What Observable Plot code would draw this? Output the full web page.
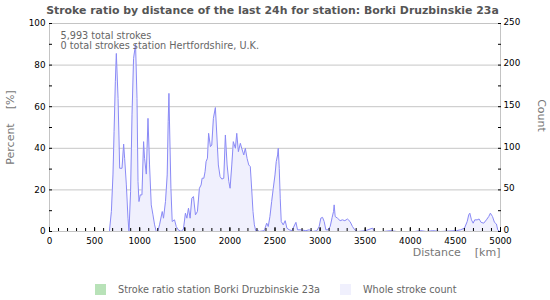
<!DOCTYPE html>
<html>
<head>
<meta charset="utf-8">
<script src="https://cdn.jsdelivr.net/npm/d3@7"></script>
<script src="https://cdn.jsdelivr.net/npm/@observablehq/plot@0.6"></script>
<style>
  html, body { margin: 0; padding: 0; background: #fff; }
  #wrap { position: relative; width: 550px; height: 300px; font-family: "DejaVu Sans", sans-serif; }
  #title { position: absolute; top: 4px; left: 0; width: 545px; text-align: center; font-weight: bold; font-size: 10.9px; color: #555; }
  .leg { position: absolute; top: 284px; font-size: 9.7px; color: #666; white-space: nowrap; }
  .sw { position: absolute; top: 284px; width: 11px; height: 11px; }
  #chart { position: absolute; top: 0; left: 0; }
</style>
</head>
<body>
<div id="wrap">
  <div id="chart"></div>
  <div id="title">Stroke ratio by distance of the last 24h for station: Borki Druzbinskie 23a</div>
  <div class="sw" style="left:95px;background:#b8e2b8"></div>
  <div class="leg" style="left:118px">Stroke ratio station Borki Druzbinskie 23a</div>
  <div class="sw" style="left:340px;background:#f0f0fd"></div>
  <div class="leg" style="left:363px">Whole stroke count</div>
</div>
<script>
// Whole stroke count per distance (km)
const distanceKm = [650, 664, 686, 704, 716, 730, 741, 760, 778, 804, 822, 833, 852, 870, 881, 899, 915, 932, 954, 970, 981, 992, 1006, 1025, 1043, 1054, 1073, 1092, 1109, 1128, 1147, 1165, 1183, 1200, 1220, 1250, 1264, 1286, 1305, 1316, 1324, 1331, 1346, 1360, 1386, 1405, 1427, 1460, 1485, 1507, 1523, 1541, 1559, 1578, 1596, 1618, 1640, 1662, 1681, 1692, 1711, 1725, 1736, 1751, 1764, 1784, 1799, 1817, 1839, 1855, 1872, 1891, 1910, 1932, 1950, 1969, 1988, 2002, 2021, 2038, 2061, 2076, 2094, 2116, 2131, 2154, 2171, 2190, 2209, 2226, 2242, 2256, 2271, 2289, 2308, 2323, 2381, 2408, 2425, 2444, 2463, 2481, 2500, 2514, 2529, 2536, 2547, 2558, 2569, 2591, 2613, 2632, 2658, 2688, 2732, 2750, 2787, 2842, 2879, 2920, 2964, 2990, 3008, 3027, 3045, 3064, 3090, 3112, 3134, 3149, 3156, 3167, 3193, 3222, 3248, 3274, 3304, 3332, 3359, 3384, 3418, 3506, 3580, 3606, 3700, 3783, 3850, 4050, 4115, 4180, 4248, 4335, 4512, 4557, 4601, 4631, 4648, 4660, 4678, 4697, 4715, 4741, 4763, 4785, 4814, 4844, 4870, 4888, 4911, 4933, 4955, 4969, 4991, 5000];
const strokeCount = [0, 0, 24, 69, 120, 180, 214, 160, 76, 76, 105, 88, 56, 16, 0, 48, 141, 208, 225, 160, 60, 36, 44, 44, 108, 88, 69, 136, 80, 32, 20, 8, 0, 0, 8, 24, 16, 36, 68, 132, 166, 128, 52, 12, 14, 6, 2, 0, 3, 22, 16, 28, 16, 40, 42, 20, 24, 52, 56, 64, 64, 72, 84, 88, 118, 102, 104, 136, 149, 116, 80, 66, 63, 64, 116, 80, 60, 52, 80, 108, 100, 118, 96, 106, 100, 92, 100, 88, 80, 78, 50, 24, 8, 0, 2, 0, 1, 10, 6, 18, 36, 52, 68, 84, 92, 100, 76, 40, 12, 8, 13, 4, 2, 1, 11, 2, 2, 1, 2, 0, 1, 6, 16, 17, 12, 2, 2, 6, 17, 24, 32, 18, 16, 13, 14, 13, 15, 12, 6, 2, 0, 1, 4, 0, 0, 1, 0, 0, 1, 0, 1, 0, 1, 2, 4, 12, 20, 22, 14, 10, 14, 14, 15, 11, 10, 14, 18, 22, 18, 11, 9, 2, 0, 0];

const percentTicks = [0, 10, 20, 30, 40, 50, 60, 70, 80, 90, 100];
const percentLabels = [0, 20, 40, 60, 80, 100];
const countTicks = [0, 25, 50, 75, 100, 125, 150, 175, 200, 225, 250];
const countLabels = [0, 50, 100, 150, 200, 250];
const distanceTicks = d3.range(0, 5001, 100);
const distanceMajor = [0, 500, 1000, 1500, 2000, 2500, 3000, 3500, 4000, 4500, 5000];
const infoLines = ["5,993 total strokes", "0 total strokes station Hertfordshire, U.K."];

const data = distanceKm.map((d, i) => ({distance: d, count: strokeCount[i]}));
const pct = p => p * 2.5; // percent -> count position (100% = 250)

const chart = Plot.plot({
  width: 550,
  height: 300,
  marginLeft: 49,
  marginRight: 50,
  marginTop: 23,
  marginBottom: 69,
  style: {fontFamily: "DejaVu Sans, sans-serif", fontSize: "8.8px", color: "#000", background: "transparent"},
  x: {domain: [0, 5000]},
  y: {domain: [0, 250]},
  marks: [
    Plot.gridY(countLabels.slice(1, -1), {stroke: "#c6c6c6", strokeOpacity: 1}),
    Plot.areaY(data, {x: "distance", y: "count", fill: "#f0f0fd"}),
    Plot.lineY(data, {x: "distance", y: "count", stroke: "#8a8af6", strokeWidth: 1}),
    Plot.frame({stroke: "#c4c4c4"}),
    // left axis: percent
    Plot.axisY({anchor: "left", ticks: percentTicks.map(pct), tickSize: 3, insetLeft: 3, tickFormat: () => "", label: null, stroke: "#000"}),
    Plot.axisY({anchor: "left", ticks: percentLabels.map(pct), tickSize: 0, tickPadding: 4, tickFormat: d => d / 2.5, label: null, fill: "#000"}),
    // right axis: count
    Plot.axisY({anchor: "right", ticks: countTicks, tickSize: 3, insetRight: 3, tickFormat: () => "", label: null, stroke: "#000"}),
    Plot.axisY({anchor: "right", ticks: countLabels, tickSize: 0, tickPadding: 3, dy: -1.5, label: null, fill: "#000"}),
    // bottom axis
    Plot.axisX({anchor: "bottom", ticks: distanceTicks, tickSize: 3, insetBottom: 3, tickFormat: () => "", label: null, stroke: "#000"}),
    Plot.axisX({anchor: "bottom", ticks: distanceMajor, tickSize: 4, insetBottom: 4, tickFormat: () => "", label: null, stroke: "#000"}),
    Plot.axisX({anchor: "bottom", ticks: distanceMajor, tickSize: 0, tickPadding: 6, tickFormat: d => String(d), label: null, fill: "#000"}),
    // axis titles
    Plot.text(["Distance    [km]"], {frameAnchor: "bottom-right", dx: 0, dy: 21, textAnchor: "end", lineAnchor: "middle", fontSize: 11, fill: "#777"}),
    Plot.text(["Percent    [%]"], {frameAnchor: "left", dx: -39, dy: 0, rotate: -90, textAnchor: "middle", lineAnchor: "middle", fontSize: 11, fill: "#777"}),
    Plot.text(["Count"], {frameAnchor: "right", dx: 41, dy: -12, rotate: 90, textAnchor: "middle", lineAnchor: "middle", fontSize: 11, fill: "#777"}),
    // info text
    Plot.text([infoLines[0]], {frameAnchor: "top-left", dx: 11, dy: 12.5, textAnchor: "start", lineAnchor: "middle", fontSize: 9.7, fill: "#666"}),
    Plot.text([infoLines[1]], {frameAnchor: "top-left", dx: 11, dy: 22.5, textAnchor: "start", lineAnchor: "middle", fontSize: 9.7, fill: "#666"})
  ]
});
document.getElementById("chart").appendChild(chart);
</script>
</body>
</html>
